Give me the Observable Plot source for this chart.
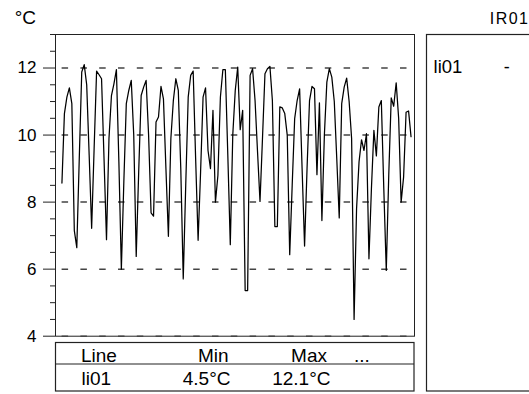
<!DOCTYPE html>
<html>
<head>
<meta charset="utf-8">
<script src="https://cdn.jsdelivr.net/npm/d3@7"></script>
<script src="https://cdn.jsdelivr.net/npm/@observablehq/plot@0.6"></script>
<style>
  html, body { margin: 0; padding: 0; background: #fff; overflow: hidden; }
  #chart svg { display: block; overflow: hidden; }
</style>
</head>
<body>
<div id="chart"></div>
<script>
// Temperature series li01 (°C), one reading per step
const seriesName = "li01";
const panelTitle = "IR01";
const unit = "°C";
const temps = [
  8.57, 10.64, 11.13, 11.41, 10.94, 7.15, 6.64, 9.3, 11.88, 12.1,
  11.5, 9.4, 7.22, 9.6, 11.91, 11.8, 11.68, 9.3, 6.88, 9.9,
  11.18, 11.53, 11.95, 9.2, 6.0, 8.6, 10.94, 11.33, 11.63, 10.0,
  6.38, 8.9, 11.18, 11.43, 11.63, 10.0, 7.68, 7.58, 10.39, 10.54,
  11.45, 11.08, 9.0, 6.98, 9.9, 11.03, 11.68, 11.33, 9.0, 5.71,
  8.5, 11.13, 11.78, 11.91, 9.3, 6.86, 8.9, 11.13, 11.41, 9.54,
  9.0, 10.74, 8.0, 8.8, 11.13, 11.95, 11.95, 9.4, 6.73, 10.0,
  11.33, 12.03, 10.16, 10.74, 5.36, 5.36, 11.78, 11.98, 11.03, 9.5,
  8.02, 9.9, 11.83, 11.98, 12.05, 11.03, 7.27, 7.27, 10.84, 10.81,
  10.64, 10.0, 6.43, 8.5, 10.49, 11.03, 11.38, 9.0, 6.69, 9.0,
  11.03, 11.45, 11.38, 8.82, 10.96, 7.45, 10.0, 11.58, 11.98, 11.73,
  11.0, 9.3, 7.53, 10.94, 11.43, 11.7, 11.0, 9.9, 4.5, 7.8,
  9.2, 9.86, 9.54, 10.04, 6.31, 8.4, 10.14, 9.38, 10.84, 11.03,
  8.4, 5.96, 8.8, 11.11, 10.86, 11.56, 10.5, 8.0, 8.75, 10.68,
  10.72, 9.95
];
const majorTicks = [4, 6, 8, 10, 12];
const minorTicks = [4.5, 5, 5.5, 6.5, 7, 7.5, 8.5, 9, 9.5, 10.5, 11, 11.5, 12.5, 13];
const tableColumns = ["Line", "Min", "Max", "..."];
const legendSymbol = "-";

const font = "'Liberation Sans', Arial, sans-serif";
const fmt = v => `${v.toFixed(1)}${unit}`;
const tableRow = [seriesName, fmt(d3.min(temps)), fmt(d3.max(temps))];

const W = 529, H = 394;
const frameRight = 414;

const plot = Plot.plot({
  width: W,
  height: H,
  marginLeft: 55,
  marginRight: W - frameRight,
  marginTop: 34,
  marginBottom: 58.3,
  style: {fontFamily: font, background: "white", color: "black"},
  x: {domain: [-2.6, temps.length + 0.4], axis: null},
  y: {domain: [4, 13], axis: null},
  marks: [
    Plot.frame({stroke: "#222"}),
    Plot.gridY(majorTicks, {
      stroke: "#444", strokeOpacity: 1, strokeWidth: 1.5,
      strokeDasharray: "6.5,12.3", strokeDashoffset: 12.2
    }),
    Plot.axisY(minorTicks, {tickSize: 5, tickFormat: () => "", label: null, stroke: "#222"}),
    Plot.axisY(majorTicks, {
      tickSize: 12, tickPadding: 7, fontSize: 17, label: null,
      stroke: "#222", fill: "black"
    }),
    Plot.line(temps, {x: (d, i) => i, y: d => d, stroke: "black", strokeWidth: 1.25})
  ]
});

// Unit label, summary table and legend panel
const svg = d3.select(plot);
const g = svg.append("g").attr("font-family", font).attr("fill", "black");

g.append("text")
  .attr("x", 36).attr("y", 24)
  .attr("text-anchor", "end").attr("font-size", 19)
  .text(unit);

// summary table below the plot
const tbl = g.append("g");
tbl.append("rect")
  .attr("x", 55.5).attr("y", 342.5)
  .attr("width", frameRight - 55.5).attr("height", 48.5)
  .attr("fill", "none").attr("stroke", "#222").attr("stroke-width", 1.2);
tbl.append("line")
  .attr("x1", 55.5).attr("x2", frameRight)
  .attr("y1", 364).attr("y2", 364)
  .attr("stroke", "#222").attr("stroke-width", 1.2);

const headerPos = [[81, "start"], [228.5, "end"], [327, "end"], [354, "start"]];
const rowPos = [[81.5, "start"], [230.5, "end"], [330.5, "end"]];
tableColumns.forEach((t, i) => {
  tbl.append("text")
    .attr("x", headerPos[i][0]).attr("y", 362)
    .attr("text-anchor", headerPos[i][1]).attr("font-size", 19)
    .text(t);
});
tableRow.forEach((t, i) => {
  tbl.append("text")
    .attr("x", rowPos[i][0]).attr("y", 384.5)
    .attr("text-anchor", rowPos[i][1]).attr("font-size", 19)
    .text(t);
});

// legend panel on the right
const leg = g.append("g");
leg.append("rect")
  .attr("x", 426.5).attr("y", 34.5)
  .attr("width", 140).attr("height", 356.5)
  .attr("fill", "none").attr("stroke", "#222").attr("stroke-width", 1.2);
leg.append("text")
  .attr("x", 529.5).attr("y", 23.5)
  .attr("text-anchor", "end").attr("font-size", 16)
  .attr("letter-spacing", 1.5)
  .text(panelTitle);
leg.append("text")
  .attr("x", 448).attr("y", 72.7)
  .attr("font-size", 18.5)
  .text(seriesName);
leg.append("text")
  .attr("x", 506.8).attr("y", 72.7)
  .attr("text-anchor", "middle").attr("font-size", 18)
  .text(legendSymbol);

document.getElementById("chart").append(plot);
</script>
</body>
</html>
